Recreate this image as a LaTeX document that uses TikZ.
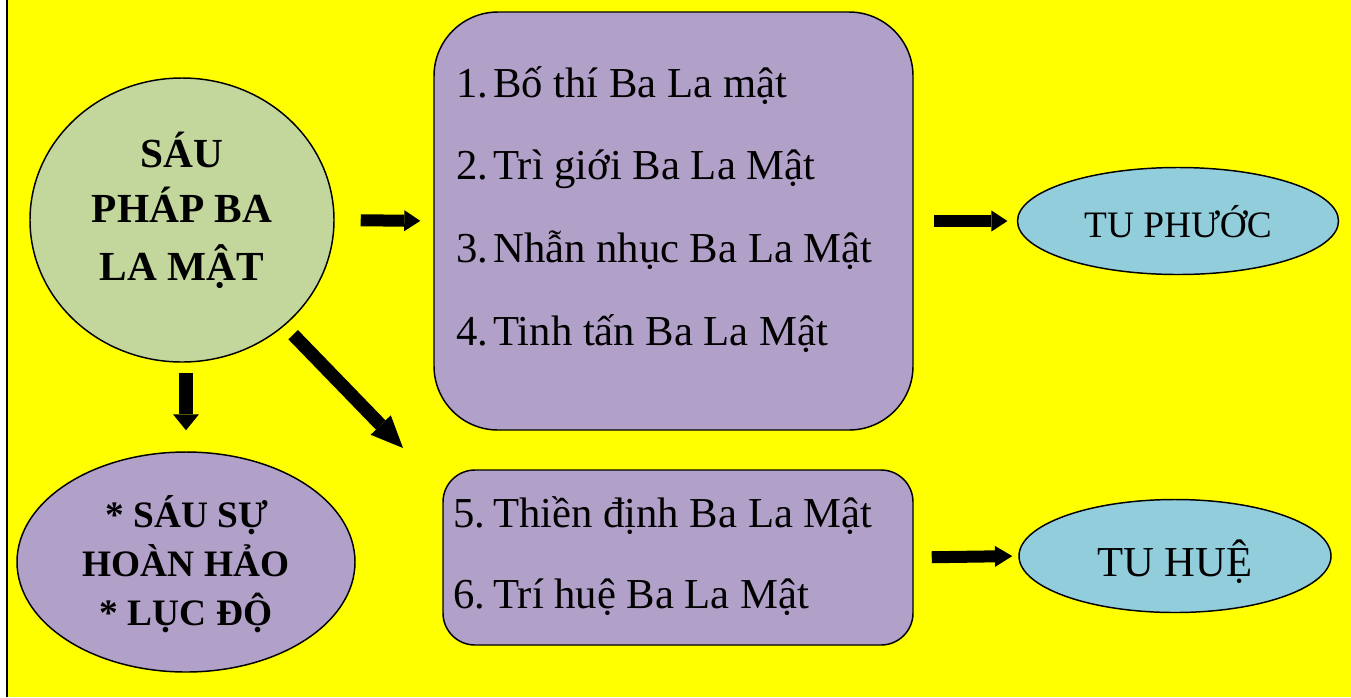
\documentclass[tikz,border=0pt]{standalone}
\usepackage{fontspec}
\setmainfont{Liberation Serif}
\usetikzlibrary{arrows.meta,shapes.geometric}
\definecolor{bgyellow}{HTML}{FFFF00}
\definecolor{cgreen}{HTML}{C3D69B}
\definecolor{cpurple}{HTML}{B1A0C7}
\definecolor{cblue}{HTML}{92CDDC}
\tikzset{
  shapeline/.style={draw=black, line width=1.1pt},
  ovalshape/.style={shapeline, ellipse, inner sep=0pt},
  boxshape/.style={shapeline, rectangle, inner sep=0pt},
  listtxt/.style={inner sep=0pt, anchor=base west, font=\fontsize{32pt}{38pt}\selectfont},
  boldtxt/.style={inner sep=0pt, anchor=base, font=\fontsize{#1}{36pt}\selectfont\bfseries},
  blockarrow/.style n args={3}{draw=black, line width=#1,
     -{Triangle[width=#2,length=#3,line width=0pt]}},
}
\begin{document}
\begin{tikzpicture}[x=0.75pt,y=-0.75pt]
\useasboundingbox (0,0) rectangle (1351,697);
\fill[white] (0,0) rectangle (1351,697);
\fill[bgyellow] (7,0) rectangle (1351,697);
\draw[black, line width=1.5pt] (7,0) -- (7,697);

% shapes
\node[ovalshape, fill=cgreen, minimum width=228pt, minimum height=213pt] (circ) at (182,220) {};
\node[ovalshape, fill=cpurple, minimum width=253.5pt, minimum height=165pt] (ell2) at (186,562) {};
\node[boxshape, fill=cpurple, rounded corners=48pt, minimum width=359.25pt, minimum height=313.5pt] (box1) at (673.5,221) {};
\node[boxshape, fill=cpurple, rounded corners=24pt, minimum width=352.5pt, minimum height=131.25pt] (box2) at (678,557.5) {};
\node[ovalshape, fill=cblue, minimum width=240.75pt, minimum height=80.25pt,
      font=\fontsize{28pt}{34pt}\selectfont, text height=24pt, text depth=0pt] (tp) at (1178,221) {TU PHƯỚC};
\node[ovalshape, fill=cblue, minimum width=234pt, minimum height=84.75pt,
      font=\fontsize{32pt}{38pt}\selectfont, text height=30pt, text depth=0pt] (th) at (1175,556) {TU HUỆ};

% circle text
\node[boldtxt=31pt] (c1) at (182,167) {SÁU};
\node[boldtxt=31pt] (c2) at (182,222) {PHÁP BA};
\node[boldtxt=31pt] (c3) at (182,280) {LA MẬT};

% ellipse text
\node[boldtxt=28pt] (e1) at (187,527) {* SÁU SỰ};
\node[boldtxt=28pt] (e2) at (186,576) {HOÀN HẢO};
\node[boldtxt=28pt] (e3) at (186,625) {* LỤC ĐỘ};

% list text
\node[listtxt] (l1) at (456,97) {\makebox[27.75pt][l]{1.}Bố thí Ba La mật};
\node[listtxt] (l2) at (456,179) {\makebox[27.75pt][l]{2.}Trì giới Ba La Mật};
\node[listtxt] (l3) at (456,262) {\makebox[27.75pt][l]{3.}Nhẫn nhục Ba La Mật};
\node[listtxt] (l4) at (456,345) {\makebox[27.75pt][l]{4.}Tinh tấn Ba La Mật};
\node[listtxt] (l5) at (453,527) {\makebox[30pt][l]{5.}Thiền định Ba La Mật};
\node[listtxt] (l6) at (453,608) {\makebox[30pt][l]{6.}Trí huệ Ba La Mật};

% arrows
\coordinate (dtip) at (403,448);
\draw[blockarrow={9pt}{15.75pt}{12pt}, shorten <=19.5pt, shorten >=9.75pt] (circ.east) -- (box1.west);
\draw[blockarrow={10.5pt}{19.5pt}{12pt}, shorten <=7.5pt, shorten >=15.75pt] (circ.south -| ell2.north) -- (ell2.north);
\draw[blockarrow={10pt}{21pt}{24pt}, shorten <=9.3pt] (circ) -- (dtip);
\draw[blockarrow={9pt}{15.75pt}{12pt}, shorten <=15pt, shorten >=7pt] (box1.east) -- (tp.west);
\draw[blockarrow={9pt}{15.75pt}{13pt}, shorten <=13.5pt, shorten >=4.5pt] (box2.east) -- (th.west);
\end{tikzpicture}
\end{document}
